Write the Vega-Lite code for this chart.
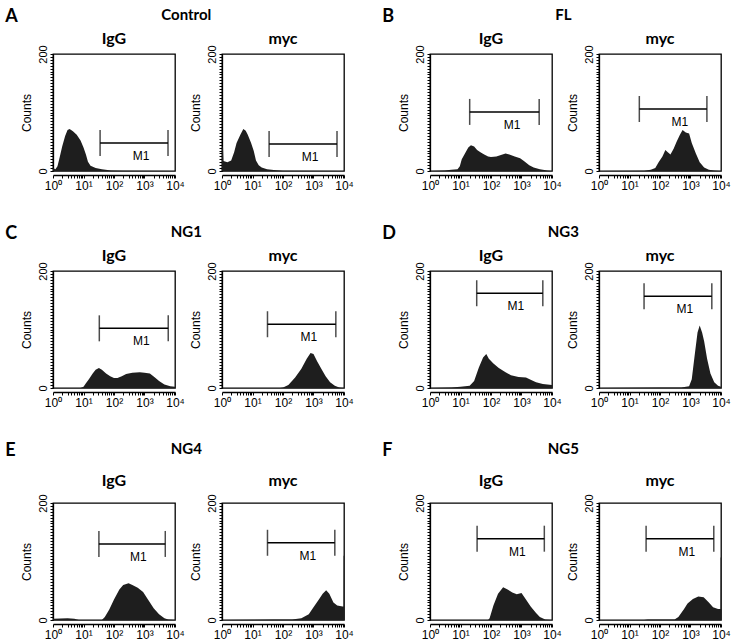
{
  "$schema": "https://vega.github.io/schema/vega-lite/v6.json",
  "background": "white",
  "padding": {"left": 5, "top": 8, "right": 2, "bottom": 4},
  "datasets": {
    "d": [
      {"g":"A","p":"IgG","x":1,"c":5},{"g":"A","p":"IgG","x":1.2,"c":3},{"g":"A","p":"IgG","x":1.4,"c":8},{"g":"A","p":"IgG","x":1.6,"c":20},{"g":"A","p":"IgG","x":2,"c":42},{"g":"A","p":"IgG","x":2.5,"c":60},{"g":"A","p":"IgG","x":3,"c":70},{"g":"A","p":"IgG","x":3.5,"c":72},{"g":"A","p":"IgG","x":4.5,"c":68},{"g":"A","p":"IgG","x":6,"c":62},{"g":"A","p":"IgG","x":8,"c":52},{"g":"A","p":"IgG","x":10,"c":40},{"g":"A","p":"IgG","x":12,"c":28},{"g":"A","p":"IgG","x":14,"c":16},{"g":"A","p":"IgG","x":17,"c":9},{"g":"A","p":"IgG","x":25,"c":5},{"g":"A","p":"IgG","x":40,"c":3},{"g":"A","p":"IgG","x":80,"c":1},{"g":"A","p":"IgG","x":200,"c":0.3},{"g":"A","p":"IgG","x":10000,"c":0},
      {"g":"A","p":"myc","x":1,"c":40},{"g":"A","p":"myc","x":1.08,"c":40},{"g":"A","p":"myc","x":1.12,"c":17},{"g":"A","p":"myc","x":1.5,"c":15},{"g":"A","p":"myc","x":2,"c":18},{"g":"A","p":"myc","x":2.5,"c":32},{"g":"A","p":"myc","x":3,"c":48},{"g":"A","p":"myc","x":4,"c":62},{"g":"A","p":"myc","x":5,"c":72},{"g":"A","p":"myc","x":6,"c":69},{"g":"A","p":"myc","x":7,"c":62},{"g":"A","p":"myc","x":9,"c":48},{"g":"A","p":"myc","x":11,"c":34},{"g":"A","p":"myc","x":13,"c":18},{"g":"A","p":"myc","x":16,"c":10},{"g":"A","p":"myc","x":20,"c":6},{"g":"A","p":"myc","x":30,"c":3},{"g":"A","p":"myc","x":50,"c":1.5},{"g":"A","p":"myc","x":100,"c":0.5},{"g":"A","p":"myc","x":10000,"c":0},
      {"g":"B","p":"IgG","x":1,"c":0},{"g":"B","p":"IgG","x":3,"c":1},{"g":"B","p":"IgG","x":5,"c":2},{"g":"B","p":"IgG","x":8,"c":3},{"g":"B","p":"IgG","x":9.5,"c":8},{"g":"B","p":"IgG","x":11,"c":20},{"g":"B","p":"IgG","x":14,"c":30},{"g":"B","p":"IgG","x":18,"c":40},{"g":"B","p":"IgG","x":22,"c":44},{"g":"B","p":"IgG","x":28,"c":42},{"g":"B","p":"IgG","x":35,"c":36},{"g":"B","p":"IgG","x":45,"c":32},{"g":"B","p":"IgG","x":60,"c":28},{"g":"B","p":"IgG","x":80,"c":25},{"g":"B","p":"IgG","x":100,"c":24},{"g":"B","p":"IgG","x":150,"c":25},{"g":"B","p":"IgG","x":200,"c":27},{"g":"B","p":"IgG","x":300,"c":30},{"g":"B","p":"IgG","x":400,"c":28},{"g":"B","p":"IgG","x":600,"c":25},{"g":"B","p":"IgG","x":900,"c":22},{"g":"B","p":"IgG","x":1200,"c":17},{"g":"B","p":"IgG","x":1800,"c":10},{"g":"B","p":"IgG","x":2500,"c":6},{"g":"B","p":"IgG","x":4000,"c":3},{"g":"B","p":"IgG","x":7000,"c":1},{"g":"B","p":"IgG","x":10000,"c":0},
      {"g":"B","p":"myc","x":1,"c":0},{"g":"B","p":"myc","x":30,"c":0.5},{"g":"B","p":"myc","x":50,"c":2},{"g":"B","p":"myc","x":70,"c":5},{"g":"B","p":"myc","x":90,"c":15},{"g":"B","p":"myc","x":120,"c":25},{"g":"B","p":"myc","x":150,"c":36},{"g":"B","p":"myc","x":180,"c":32},{"g":"B","p":"myc","x":220,"c":28},{"g":"B","p":"myc","x":280,"c":38},{"g":"B","p":"myc","x":350,"c":50},{"g":"B","p":"myc","x":450,"c":62},{"g":"B","p":"myc","x":550,"c":70},{"g":"B","p":"myc","x":700,"c":66},{"g":"B","p":"myc","x":900,"c":64},{"g":"B","p":"myc","x":1100,"c":48},{"g":"B","p":"myc","x":1500,"c":30},{"g":"B","p":"myc","x":2000,"c":15},{"g":"B","p":"myc","x":2800,"c":6},{"g":"B","p":"myc","x":4000,"c":2},{"g":"B","p":"myc","x":6000,"c":1},{"g":"B","p":"myc","x":10000,"c":0},
      {"g":"C","p":"IgG","x":1,"c":0},{"g":"C","p":"IgG","x":8,"c":0},{"g":"C","p":"IgG","x":10,"c":2},{"g":"C","p":"IgG","x":12,"c":8},{"g":"C","p":"IgG","x":15,"c":15},{"g":"C","p":"IgG","x":20,"c":25},{"g":"C","p":"IgG","x":25,"c":31},{"g":"C","p":"IgG","x":32,"c":34},{"g":"C","p":"IgG","x":40,"c":31},{"g":"C","p":"IgG","x":55,"c":25},{"g":"C","p":"IgG","x":75,"c":20},{"g":"C","p":"IgG","x":100,"c":17},{"g":"C","p":"IgG","x":130,"c":17},{"g":"C","p":"IgG","x":180,"c":20},{"g":"C","p":"IgG","x":250,"c":24},{"g":"C","p":"IgG","x":400,"c":26},{"g":"C","p":"IgG","x":700,"c":27},{"g":"C","p":"IgG","x":1000,"c":26},{"g":"C","p":"IgG","x":1500,"c":25},{"g":"C","p":"IgG","x":2200,"c":18},{"g":"C","p":"IgG","x":3000,"c":12},{"g":"C","p":"IgG","x":4500,"c":6},{"g":"C","p":"IgG","x":7000,"c":3},{"g":"C","p":"IgG","x":10000,"c":2},
      {"g":"C","p":"myc","x":1,"c":0},{"g":"C","p":"myc","x":80,"c":0},{"g":"C","p":"myc","x":100,"c":1},{"g":"C","p":"myc","x":150,"c":5},{"g":"C","p":"myc","x":250,"c":18},{"g":"C","p":"myc","x":400,"c":33},{"g":"C","p":"myc","x":600,"c":50},{"g":"C","p":"myc","x":800,"c":60},{"g":"C","p":"myc","x":1000,"c":58},{"g":"C","p":"myc","x":1300,"c":46},{"g":"C","p":"myc","x":1800,"c":33},{"g":"C","p":"myc","x":2500,"c":20},{"g":"C","p":"myc","x":3500,"c":10},{"g":"C","p":"myc","x":5000,"c":4},{"g":"C","p":"myc","x":7000,"c":1},{"g":"C","p":"myc","x":10000,"c":0},
      {"g":"D","p":"IgG","x":1,"c":0},{"g":"D","p":"IgG","x":5,"c":1},{"g":"D","p":"IgG","x":10,"c":2},{"g":"D","p":"IgG","x":20,"c":4},{"g":"D","p":"IgG","x":28,"c":12},{"g":"D","p":"IgG","x":40,"c":35},{"g":"D","p":"IgG","x":55,"c":52},{"g":"D","p":"IgG","x":70,"c":58},{"g":"D","p":"IgG","x":85,"c":50},{"g":"D","p":"IgG","x":120,"c":42},{"g":"D","p":"IgG","x":180,"c":34},{"g":"D","p":"IgG","x":300,"c":27},{"g":"D","p":"IgG","x":450,"c":22},{"g":"D","p":"IgG","x":800,"c":19},{"g":"D","p":"IgG","x":1400,"c":18},{"g":"D","p":"IgG","x":2000,"c":14},{"g":"D","p":"IgG","x":3000,"c":10},{"g":"D","p":"IgG","x":5000,"c":7},{"g":"D","p":"IgG","x":10000,"c":5},
      {"g":"D","p":"myc","x":1,"c":0},{"g":"D","p":"myc","x":10,"c":0.5},{"g":"D","p":"myc","x":100,"c":1},{"g":"D","p":"myc","x":500,"c":1},{"g":"D","p":"myc","x":900,"c":3},{"g":"D","p":"myc","x":1100,"c":15},{"g":"D","p":"myc","x":1400,"c":60},{"g":"D","p":"myc","x":1700,"c":95},{"g":"D","p":"myc","x":2000,"c":107},{"g":"D","p":"myc","x":2400,"c":95},{"g":"D","p":"myc","x":2800,"c":80},{"g":"D","p":"myc","x":3500,"c":50},{"g":"D","p":"myc","x":4500,"c":25},{"g":"D","p":"myc","x":6000,"c":10},{"g":"D","p":"myc","x":8000,"c":4},{"g":"D","p":"myc","x":10000,"c":2},
      {"g":"E","p":"IgG","x":1,"c":2},{"g":"E","p":"IgG","x":3,"c":3},{"g":"E","p":"IgG","x":5,"c":2},{"g":"E","p":"IgG","x":7,"c":0},{"g":"E","p":"IgG","x":40,"c":0},{"g":"E","p":"IgG","x":50,"c":5},{"g":"E","p":"IgG","x":70,"c":18},{"g":"E","p":"IgG","x":100,"c":35},{"g":"E","p":"IgG","x":150,"c":52},{"g":"E","p":"IgG","x":200,"c":60},{"g":"E","p":"IgG","x":300,"c":63},{"g":"E","p":"IgG","x":400,"c":60},{"g":"E","p":"IgG","x":600,"c":55},{"g":"E","p":"IgG","x":900,"c":48},{"g":"E","p":"IgG","x":1300,"c":35},{"g":"E","p":"IgG","x":2000,"c":20},{"g":"E","p":"IgG","x":3000,"c":10},{"g":"E","p":"IgG","x":4500,"c":3},{"g":"E","p":"IgG","x":6000,"c":1},{"g":"E","p":"IgG","x":10000,"c":0},
      {"g":"E","p":"myc","x":1,"c":0},{"g":"E","p":"myc","x":10,"c":0.5},{"g":"E","p":"myc","x":50,"c":1},{"g":"E","p":"myc","x":200,"c":1},{"g":"E","p":"myc","x":400,"c":3},{"g":"E","p":"myc","x":700,"c":10},{"g":"E","p":"myc","x":1000,"c":22},{"g":"E","p":"myc","x":1500,"c":35},{"g":"E","p":"myc","x":2000,"c":45},{"g":"E","p":"myc","x":2600,"c":51},{"g":"E","p":"myc","x":3300,"c":45},{"g":"E","p":"myc","x":4500,"c":30},{"g":"E","p":"myc","x":6000,"c":25},{"g":"E","p":"myc","x":9000,"c":23},{"g":"E","p":"myc","x":9600,"c":23},{"g":"E","p":"myc","x":9700,"c":110},{"g":"E","p":"myc","x":10000,"c":110},
      {"g":"F","p":"IgG","x":1,"c":0},{"g":"F","p":"IgG","x":80,"c":0},{"g":"F","p":"IgG","x":90,"c":3},{"g":"F","p":"IgG","x":120,"c":25},{"g":"F","p":"IgG","x":170,"c":45},{"g":"F","p":"IgG","x":250,"c":56},{"g":"F","p":"IgG","x":350,"c":52},{"g":"F","p":"IgG","x":500,"c":47},{"g":"F","p":"IgG","x":700,"c":44},{"g":"F","p":"IgG","x":1000,"c":46},{"g":"F","p":"IgG","x":1400,"c":35},{"g":"F","p":"IgG","x":2000,"c":23},{"g":"F","p":"IgG","x":3000,"c":12},{"g":"F","p":"IgG","x":4000,"c":5},{"g":"F","p":"IgG","x":6000,"c":1},{"g":"F","p":"IgG","x":10000,"c":0},
      {"g":"F","p":"myc","x":1,"c":0},{"g":"F","p":"myc","x":30,"c":0},{"g":"F","p":"myc","x":40,"c":1},{"g":"F","p":"myc","x":300,"c":1},{"g":"F","p":"myc","x":400,"c":5},{"g":"F","p":"myc","x":600,"c":18},{"g":"F","p":"myc","x":800,"c":28},{"g":"F","p":"myc","x":1200,"c":36},{"g":"F","p":"myc","x":1800,"c":40},{"g":"F","p":"myc","x":2700,"c":39},{"g":"F","p":"myc","x":4000,"c":30},{"g":"F","p":"myc","x":5500,"c":22},{"g":"F","p":"myc","x":8000,"c":19},{"g":"F","p":"myc","x":9600,"c":19},{"g":"F","p":"myc","x":9700,"c":107},{"g":"F","p":"myc","x":10000,"c":107},
      {"g":"A","p":"IgG","lo":35,"hi":5900,"lvl":48},{"g":"A","p":"myc","lo":35,"hi":5900,"lvl":46},
      {"g":"B","p":"IgG","lo":20,"hi":3800,"lvl":101},{"g":"B","p":"myc","lo":21,"hi":3450,"lvl":106},
      {"g":"C","p":"IgG","lo":33,"hi":6000,"lvl":102},{"g":"C","p":"myc","lo":31,"hi":5400,"lvl":109},
      {"g":"D","p":"IgG","lo":34,"hi":5000,"lvl":162},{"g":"D","p":"myc","lo":30,"hi":5000,"lvl":157},
      {"g":"E","p":"IgG","lo":32,"hi":4800,"lvl":130},{"g":"E","p":"myc","lo":31,"hi":5000,"lvl":132},
      {"g":"F","p":"IgG","lo":35,"hi":5600,"lvl":139},{"g":"F","p":"myc","lo":35,"hi":5800,"lvl":139}
    ]
  },
  "config": {
    "view": {"stroke": "black", "strokeWidth": 1.3},
    "axis": {"domainColor": "black", "domainWidth": 1.3, "tickColor": "black", "labelColor": "black", "titleColor": "black", "labelFont": "Liberation Sans", "titleFont": "Liberation Sans", "titleFontWeight": "normal", "grid": false},
    "axisX": {"tickCount": 100, "labelExpr": "datum.value === 1 ? '10⁰' : datum.value === 10 ? '10¹' : datum.value === 100 ? '10²' : datum.value === 1000 ? '10³' : datum.value === 10000 ? '10⁴' : ''", "tickSize": 3, "labelPadding": 2, "labelFontSize": 12, "labelOverlap": false, "labelFlush": false},
    "axisY": {"tickCount": 100, "labelExpr": "datum.value === 0 || datum.value === 200 ? datum.label : ''", "labelAngle": -90, "tickSize": 3, "labelPadding": 2, "labelFontSize": 11, "titleFontSize": 12, "titlePadding": 4, "labelOverlap": false},
    "title": {"font": "Lato", "fontWeight": "bold", "color": "black"},
    "header": {"labelFont": "Lato", "labelFontSize": 16, "labelFontWeight": "bold", "labelColor": "black"}
  },
  "spacing": 34,
  "vconcat": [
    {"spacing": 28, "hconcat": [
      {"title": {"text": "A", "anchor": "start", "dx": -14, "dy": 22, "fontSize": 18},
       "vconcat": [{
        "title": {"text": "Control", "anchor": "middle", "fontSize": 15, "offset": 8},
        "data": {"name": "d"},
        "transform": [{"filter": "datum.g === 'A'"}],
        "facet": {"column": {"field": "p", "type": "nominal", "header": {"title": null, "labelPadding": -3}}},
        "spacing": 12,
        "resolve": {"axis": {"y": "independent"}},
        "spec": {"width": 122, "height": 117, "layer": [
          {"transform": [{"filter": "isValid(datum.x)"}], "mark": {"type": "area", "color": "#1e1e1e", "clip": true},
           "encoding": {
            "x": {"field": "x", "type": "quantitative", "scale": {"type": "log", "domain": [1, 10000]}, "axis": {"title": null, "values": [1,2,3,4,5,6,7,8,9,10,20,30,40,50,60,70,80,90,100,200,300,400,500,600,700,800,900,1000,2000,3000,4000,5000,6000,7000,8000,9000,10000]}},
            "y": {"field": "c", "type": "quantitative", "scale": {"domain": [0, 200]}, "axis": {"title": "Counts", "values": [0,5,10,15,20,25,30,35,40,45,50,55,60,65,70,75,80,85,90,95,100,105,110,115,120,125,130,135,140,145,150,155,160,165,170,175,180,185,190,195,200]}}}},
          {"transform": [{"filter": "isValid(datum.lo)"}], "mark": {"type": "rule", "color": "black", "strokeWidth": 1.5},
           "encoding": {"x": {"field": "lo", "type": "quantitative"}, "x2": {"field": "hi"}, "y": {"field": "lvl", "type": "quantitative"}}},
          {"transform": [{"filter": "isValid(datum.lo)"}, {"fold": ["lo", "hi"], "as": ["end", "xv"]}], "mark": {"type": "tick", "orient": "vertical", "size": 26, "thickness": 1.5, "color": "black"},
           "encoding": {"x": {"field": "xv", "type": "quantitative"}, "y": {"field": "lvl", "type": "quantitative"}}},
          {"transform": [{"filter": "isValid(datum.lo)"}], "mark": {"type": "text", "text": "M1", "dx": -27, "dy": 13, "font": "Liberation Sans", "fontSize": 12, "color": "black"},
           "encoding": {"x": {"field": "hi", "type": "quantitative"}, "y": {"field": "lvl", "type": "quantitative"}}}
        ]}
      }]},
      {"title": {"text": "B", "anchor": "start", "dx": -14, "dy": 22, "fontSize": 18},
       "vconcat": [{
        "title": {"text": "FL", "anchor": "middle", "fontSize": 15, "offset": 8},
        "data": {"name": "d"},
        "transform": [{"filter": "datum.g === 'B'"}],
        "facet": {"column": {"field": "p", "type": "nominal", "header": {"title": null, "labelPadding": -3}}},
        "spacing": 12,
        "resolve": {"axis": {"y": "independent"}},
        "spec": {"width": 122, "height": 117, "layer": [
          {"transform": [{"filter": "isValid(datum.x)"}], "mark": {"type": "area", "color": "#1e1e1e", "clip": true},
           "encoding": {
            "x": {"field": "x", "type": "quantitative", "scale": {"type": "log", "domain": [1, 10000]}, "axis": {"title": null, "values": [1,2,3,4,5,6,7,8,9,10,20,30,40,50,60,70,80,90,100,200,300,400,500,600,700,800,900,1000,2000,3000,4000,5000,6000,7000,8000,9000,10000]}},
            "y": {"field": "c", "type": "quantitative", "scale": {"domain": [0, 200]}, "axis": {"title": "Counts", "values": [0,5,10,15,20,25,30,35,40,45,50,55,60,65,70,75,80,85,90,95,100,105,110,115,120,125,130,135,140,145,150,155,160,165,170,175,180,185,190,195,200]}}}},
          {"transform": [{"filter": "isValid(datum.lo)"}], "mark": {"type": "rule", "color": "black", "strokeWidth": 1.5},
           "encoding": {"x": {"field": "lo", "type": "quantitative"}, "x2": {"field": "hi"}, "y": {"field": "lvl", "type": "quantitative"}}},
          {"transform": [{"filter": "isValid(datum.lo)"}, {"fold": ["lo", "hi"], "as": ["end", "xv"]}], "mark": {"type": "tick", "orient": "vertical", "size": 26, "thickness": 1.5, "color": "black"},
           "encoding": {"x": {"field": "xv", "type": "quantitative"}, "y": {"field": "lvl", "type": "quantitative"}}},
          {"transform": [{"filter": "isValid(datum.lo)"}], "mark": {"type": "text", "text": "M1", "dx": -27, "dy": 13, "font": "Liberation Sans", "fontSize": 12, "color": "black"},
           "encoding": {"x": {"field": "hi", "type": "quantitative"}, "y": {"field": "lvl", "type": "quantitative"}}}
        ]}
      }]}
    ]},
    {"spacing": 28, "hconcat": [
      {"title": {"text": "C", "anchor": "start", "dx": -14, "dy": 22, "fontSize": 18},
       "vconcat": [{
        "title": {"text": "NG1", "anchor": "middle", "fontSize": 15, "offset": 8},
        "data": {"name": "d"},
        "transform": [{"filter": "datum.g === 'C'"}],
        "facet": {"column": {"field": "p", "type": "nominal", "header": {"title": null, "labelPadding": -3}}},
        "spacing": 12,
        "resolve": {"axis": {"y": "independent"}},
        "spec": {"width": 122, "height": 117, "layer": [
          {"transform": [{"filter": "isValid(datum.x)"}], "mark": {"type": "area", "color": "#1e1e1e", "clip": true},
           "encoding": {
            "x": {"field": "x", "type": "quantitative", "scale": {"type": "log", "domain": [1, 10000]}, "axis": {"title": null, "values": [1,2,3,4,5,6,7,8,9,10,20,30,40,50,60,70,80,90,100,200,300,400,500,600,700,800,900,1000,2000,3000,4000,5000,6000,7000,8000,9000,10000]}},
            "y": {"field": "c", "type": "quantitative", "scale": {"domain": [0, 200]}, "axis": {"title": "Counts", "values": [0,5,10,15,20,25,30,35,40,45,50,55,60,65,70,75,80,85,90,95,100,105,110,115,120,125,130,135,140,145,150,155,160,165,170,175,180,185,190,195,200]}}}},
          {"transform": [{"filter": "isValid(datum.lo)"}], "mark": {"type": "rule", "color": "black", "strokeWidth": 1.5},
           "encoding": {"x": {"field": "lo", "type": "quantitative"}, "x2": {"field": "hi"}, "y": {"field": "lvl", "type": "quantitative"}}},
          {"transform": [{"filter": "isValid(datum.lo)"}, {"fold": ["lo", "hi"], "as": ["end", "xv"]}], "mark": {"type": "tick", "orient": "vertical", "size": 26, "thickness": 1.5, "color": "black"},
           "encoding": {"x": {"field": "xv", "type": "quantitative"}, "y": {"field": "lvl", "type": "quantitative"}}},
          {"transform": [{"filter": "isValid(datum.lo)"}], "mark": {"type": "text", "text": "M1", "dx": -27, "dy": 13, "font": "Liberation Sans", "fontSize": 12, "color": "black"},
           "encoding": {"x": {"field": "hi", "type": "quantitative"}, "y": {"field": "lvl", "type": "quantitative"}}}
        ]}
      }]},
      {"title": {"text": "D", "anchor": "start", "dx": -14, "dy": 22, "fontSize": 18},
       "vconcat": [{
        "title": {"text": "NG3", "anchor": "middle", "fontSize": 15, "offset": 8},
        "data": {"name": "d"},
        "transform": [{"filter": "datum.g === 'D'"}],
        "facet": {"column": {"field": "p", "type": "nominal", "header": {"title": null, "labelPadding": -3}}},
        "spacing": 12,
        "resolve": {"axis": {"y": "independent"}},
        "spec": {"width": 122, "height": 117, "layer": [
          {"transform": [{"filter": "isValid(datum.x)"}], "mark": {"type": "area", "color": "#1e1e1e", "clip": true},
           "encoding": {
            "x": {"field": "x", "type": "quantitative", "scale": {"type": "log", "domain": [1, 10000]}, "axis": {"title": null, "values": [1,2,3,4,5,6,7,8,9,10,20,30,40,50,60,70,80,90,100,200,300,400,500,600,700,800,900,1000,2000,3000,4000,5000,6000,7000,8000,9000,10000]}},
            "y": {"field": "c", "type": "quantitative", "scale": {"domain": [0, 200]}, "axis": {"title": "Counts", "values": [0,5,10,15,20,25,30,35,40,45,50,55,60,65,70,75,80,85,90,95,100,105,110,115,120,125,130,135,140,145,150,155,160,165,170,175,180,185,190,195,200]}}}},
          {"transform": [{"filter": "isValid(datum.lo)"}], "mark": {"type": "rule", "color": "black", "strokeWidth": 1.5},
           "encoding": {"x": {"field": "lo", "type": "quantitative"}, "x2": {"field": "hi"}, "y": {"field": "lvl", "type": "quantitative"}}},
          {"transform": [{"filter": "isValid(datum.lo)"}, {"fold": ["lo", "hi"], "as": ["end", "xv"]}], "mark": {"type": "tick", "orient": "vertical", "size": 26, "thickness": 1.5, "color": "black"},
           "encoding": {"x": {"field": "xv", "type": "quantitative"}, "y": {"field": "lvl", "type": "quantitative"}}},
          {"transform": [{"filter": "isValid(datum.lo)"}], "mark": {"type": "text", "text": "M1", "dx": -27, "dy": 13, "font": "Liberation Sans", "fontSize": 12, "color": "black"},
           "encoding": {"x": {"field": "hi", "type": "quantitative"}, "y": {"field": "lvl", "type": "quantitative"}}}
        ]}
      }]}
    ]},
    {"spacing": 28, "hconcat": [
      {"title": {"text": "E", "anchor": "start", "dx": -14, "dy": 22, "fontSize": 18},
       "vconcat": [{
        "title": {"text": "NG4", "anchor": "middle", "fontSize": 15, "offset": 16},
        "data": {"name": "d"},
        "transform": [{"filter": "datum.g === 'E'"}],
        "facet": {"column": {"field": "p", "type": "nominal", "header": {"title": null, "labelPadding": 4}}},
        "spacing": 12,
        "resolve": {"axis": {"y": "independent"}},
        "spec": {"width": 122, "height": 117, "layer": [
          {"transform": [{"filter": "isValid(datum.x)"}], "mark": {"type": "area", "color": "#1e1e1e", "clip": true},
           "encoding": {
            "x": {"field": "x", "type": "quantitative", "scale": {"type": "log", "domain": [1, 10000]}, "axis": {"title": null, "values": [1,2,3,4,5,6,7,8,9,10,20,30,40,50,60,70,80,90,100,200,300,400,500,600,700,800,900,1000,2000,3000,4000,5000,6000,7000,8000,9000,10000]}},
            "y": {"field": "c", "type": "quantitative", "scale": {"domain": [0, 200]}, "axis": {"title": "Counts", "values": [0,5,10,15,20,25,30,35,40,45,50,55,60,65,70,75,80,85,90,95,100,105,110,115,120,125,130,135,140,145,150,155,160,165,170,175,180,185,190,195,200]}}}},
          {"transform": [{"filter": "isValid(datum.lo)"}], "mark": {"type": "rule", "color": "black", "strokeWidth": 1.5},
           "encoding": {"x": {"field": "lo", "type": "quantitative"}, "x2": {"field": "hi"}, "y": {"field": "lvl", "type": "quantitative"}}},
          {"transform": [{"filter": "isValid(datum.lo)"}, {"fold": ["lo", "hi"], "as": ["end", "xv"]}], "mark": {"type": "tick", "orient": "vertical", "size": 26, "thickness": 1.5, "color": "black"},
           "encoding": {"x": {"field": "xv", "type": "quantitative"}, "y": {"field": "lvl", "type": "quantitative"}}},
          {"transform": [{"filter": "isValid(datum.lo)"}], "mark": {"type": "text", "text": "M1", "dx": -27, "dy": 13, "font": "Liberation Sans", "fontSize": 12, "color": "black"},
           "encoding": {"x": {"field": "hi", "type": "quantitative"}, "y": {"field": "lvl", "type": "quantitative"}}}
        ]}
      }]},
      {"title": {"text": "F", "anchor": "start", "dx": -14, "dy": 22, "fontSize": 18},
       "vconcat": [{
        "title": {"text": "NG5", "anchor": "middle", "fontSize": 15, "offset": 16},
        "data": {"name": "d"},
        "transform": [{"filter": "datum.g === 'F'"}],
        "facet": {"column": {"field": "p", "type": "nominal", "header": {"title": null, "labelPadding": 4}}},
        "spacing": 12,
        "resolve": {"axis": {"y": "independent"}},
        "spec": {"width": 122, "height": 117, "layer": [
          {"transform": [{"filter": "isValid(datum.x)"}], "mark": {"type": "area", "color": "#1e1e1e", "clip": true},
           "encoding": {
            "x": {"field": "x", "type": "quantitative", "scale": {"type": "log", "domain": [1, 10000]}, "axis": {"title": null, "values": [1,2,3,4,5,6,7,8,9,10,20,30,40,50,60,70,80,90,100,200,300,400,500,600,700,800,900,1000,2000,3000,4000,5000,6000,7000,8000,9000,10000]}},
            "y": {"field": "c", "type": "quantitative", "scale": {"domain": [0, 200]}, "axis": {"title": "Counts", "values": [0,5,10,15,20,25,30,35,40,45,50,55,60,65,70,75,80,85,90,95,100,105,110,115,120,125,130,135,140,145,150,155,160,165,170,175,180,185,190,195,200]}}}},
          {"transform": [{"filter": "isValid(datum.lo)"}], "mark": {"type": "rule", "color": "black", "strokeWidth": 1.5},
           "encoding": {"x": {"field": "lo", "type": "quantitative"}, "x2": {"field": "hi"}, "y": {"field": "lvl", "type": "quantitative"}}},
          {"transform": [{"filter": "isValid(datum.lo)"}, {"fold": ["lo", "hi"], "as": ["end", "xv"]}], "mark": {"type": "tick", "orient": "vertical", "size": 26, "thickness": 1.5, "color": "black"},
           "encoding": {"x": {"field": "xv", "type": "quantitative"}, "y": {"field": "lvl", "type": "quantitative"}}},
          {"transform": [{"filter": "isValid(datum.lo)"}], "mark": {"type": "text", "text": "M1", "dx": -27, "dy": 13, "font": "Liberation Sans", "fontSize": 12, "color": "black"},
           "encoding": {"x": {"field": "hi", "type": "quantitative"}, "y": {"field": "lvl", "type": "quantitative"}}}
        ]}
      }]}
    ]}
  ]
}
